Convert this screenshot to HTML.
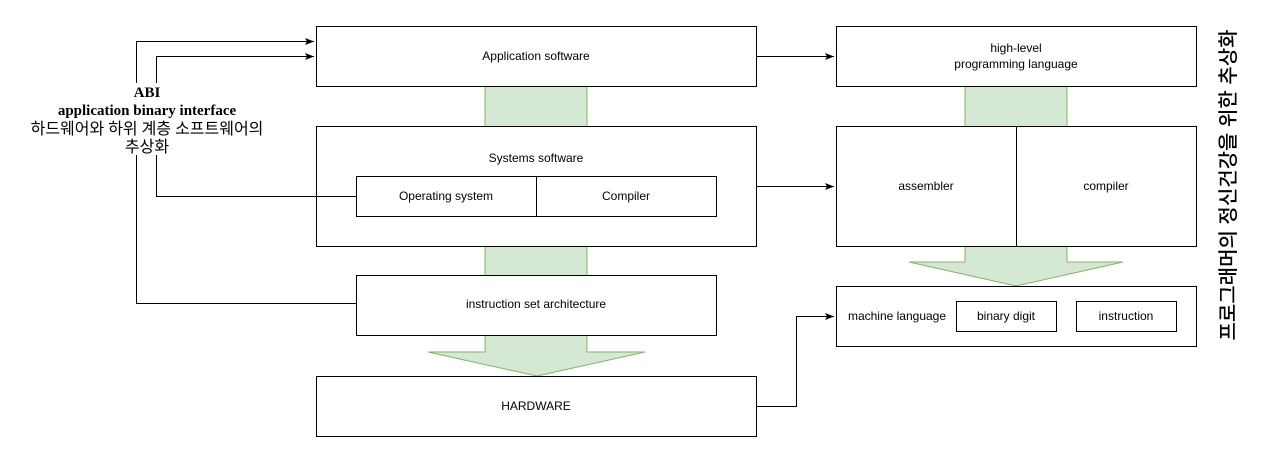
<!DOCTYPE html>
<html><head><meta charset="utf-8"><style>
html,body{margin:0;padding:0;background:#fff;width:1277px;height:469px;overflow:hidden}
svg text{font-family:"Liberation Sans","Noto Sans CJK KR",sans-serif;font-size:12px;fill:#000}
</style></head><body>
<svg width="1277" height="469" xmlns="http://www.w3.org/2000/svg">
<defs><marker id="a" markerWidth="10" markerHeight="8" refX="9" refY="4" orient="auto" markerUnits="userSpaceOnUse"><path d="M0,0.5 L9,4 L0,7.5 L2,4 Z" fill="#000"/></marker></defs>
<g fill="#d5e8d4" stroke="#82b366" stroke-width="1">
<path d="M485,86 L587,86 L587,352 L645,352 L537,376 L428,352 L485,352 Z"/>
<path d="M965,86 L1067,86 L1067,262 L1123,262 L1016,286 L909,262 L965,262 Z"/>
</g>
<g fill="#fff" stroke="#000" stroke-width="1">
<rect x="316.5" y="26.5" width="440" height="60"/>
<rect x="316.5" y="126.5" width="440" height="120"/>
<rect x="356.5" y="176.5" width="180" height="40"/>
<rect x="536.5" y="176.5" width="180" height="40"/>
<rect x="356.5" y="275.5" width="360" height="60"/>
<rect x="316.5" y="376.5" width="440" height="60"/>
<rect x="836.5" y="26.5" width="360" height="60"/>
<rect x="836.5" y="126.5" width="180" height="120"/>
<rect x="1016.5" y="126.5" width="180" height="120"/>
<rect x="836.5" y="286.5" width="360" height="60"/>
<rect x="956.5" y="301.5" width="100" height="30"/>
<rect x="1076.5" y="301.5" width="100" height="30"/>
</g>
<g fill="none" stroke="#000" stroke-width="1">
<path d="M136.5,83 L136.5,41.5 L314,41.5" marker-end="url(#a)"/>
<path d="M156.5,83 L156.5,56.5 L314,56.5" marker-end="url(#a)"/>
<path d="M136.5,155 L136.5,303.5 L356,303.5"/>
<path d="M156.5,155 L156.5,196.5 L356,196.5"/>
<path d="M756,56.5 L834,56.5" marker-end="url(#a)"/>
<path d="M756,186.5 L834,186.5" marker-end="url(#a)"/>
<path d="M756,406.5 L796.5,406.5 L796.5,316.5 L834,316.5" marker-end="url(#a)"/>
</g>
<g text-anchor="middle">
<text x="536" y="60">Application software</text>
<text x="536" y="162">Systems software</text>
<text x="446" y="200">Operating system</text>
<text x="626" y="200">Compiler</text>
<text x="536" y="308">instruction set architecture</text>
<text x="536" y="410">HARDWARE</text>
<text x="1016" y="52">high-level</text>
<text x="1016" y="68">programming language</text>
<text x="926" y="190">assembler</text>
<text x="1106" y="190">compiler</text>
<text x="897" y="320">machine language</text>
<text x="1006" y="320">binary digit</text>
<text x="1126" y="320">instruction</text>
</g>
<g text-anchor="middle">
<text x="147" y="97" style="font-family:'Liberation Serif',serif;font-weight:bold;font-size:15px">ABI</text>
<text x="147" y="115" style="font-family:'Liberation Serif',serif;font-weight:bold;font-size:15px">application binary interface</text>
<text x="147" y="134" style="font-family:'Liberation Serif','Noto Sans CJK KR',sans-serif;font-size:16px">하드웨어와 하위 계층 소프트웨어의</text>
<text x="147" y="152" style="font-family:'Liberation Serif','Noto Sans CJK KR',sans-serif;font-size:16px">추상화</text>
</g>
<text x="0" y="0" text-anchor="middle" dominant-baseline="central" transform="translate(1229,185) rotate(-90)" style="font-size:20px;font-weight:500">프로그래머의 정신건강을 위한 추상화</text>
</svg>
</body></html>
